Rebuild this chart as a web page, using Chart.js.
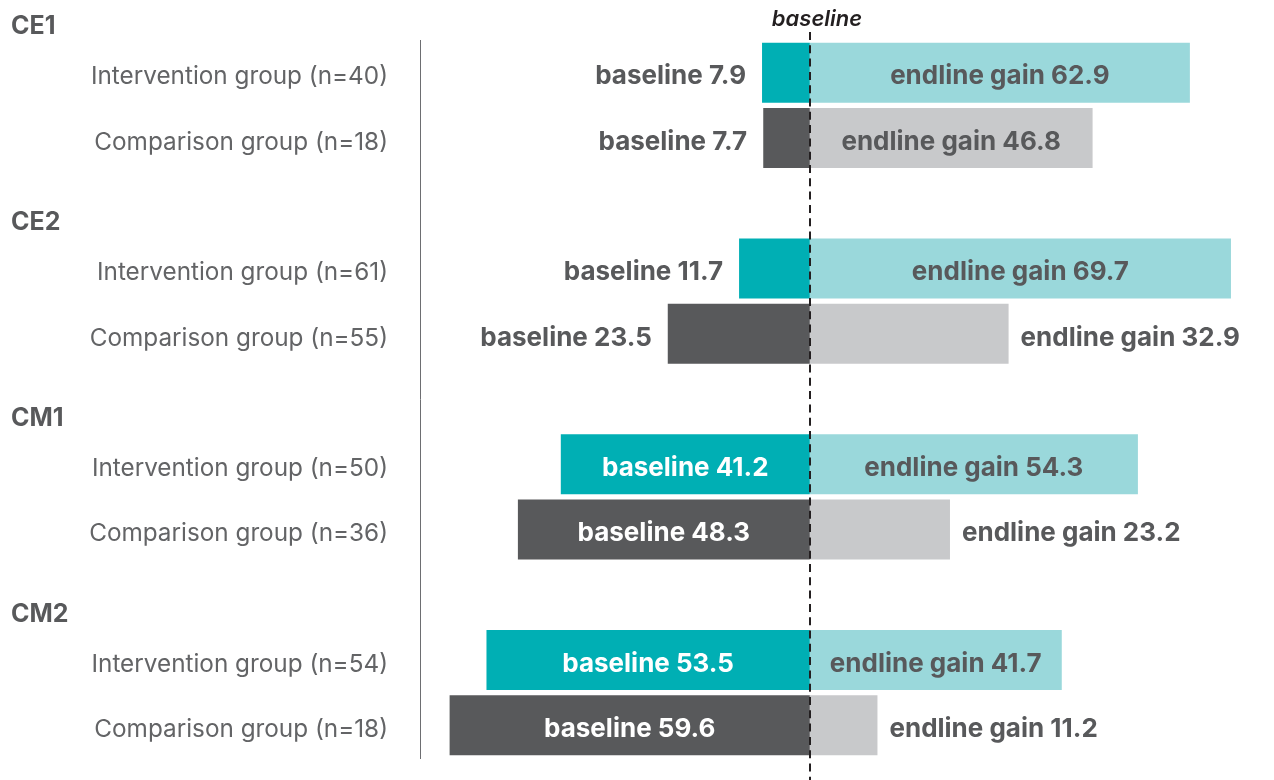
<!DOCTYPE html>
<html><head><meta charset="utf-8">
<script src="https://cdn.jsdelivr.net/npm/chart.js@4.4.0/dist/chart.umd.min.js"></script>
<style>html,body{margin:0;padding:0;background:#fff;} #wrap{width:1274px;height:780px;position:relative;}</style>
</head><body><div id="wrap"><canvas id="c" width="1274" height="780"></canvas></div>
<script>
const groups = ['CE1', 'CE2', 'CM1', 'CM2'];
const interventionN = [40, 61, 50, 54];
const comparisonN = [18, 55, 36, 18];
const interventionBaseline = [7.9, 11.7, 41.2, 53.5];
const interventionGain = [62.9, 69.7, 54.3, 41.7];
const comparisonBaseline = [7.7, 23.5, 48.3, 59.6];
const comparisonGain = [46.8, 32.9, 23.2, 11.2];
const baselineText = 'baseline';
const gainText = 'endline gain';

const COLORS = {
  intBase: '#00AFB4', intGain: '#9AD8DB',
  compBase: '#58595B', compGain: '#C8C9CB',
  text: '#58595B', tick: '#636466'
};

const rowLabels = [], rowBase = [], rowGain = [], rowType = [], headerRows = [];
groups.forEach((g, i) => {
  if (i > 0) { rowLabels.push(''); rowBase.push(null); rowGain.push(null); rowType.push('gap'); }
  headerRows.push({ text: g, row: rowLabels.length });
  rowLabels.push('Intervention group (n=' + interventionN[i] + ')');
  rowBase.push(-interventionBaseline[i]); rowGain.push(interventionGain[i]); rowType.push('int');
  rowLabels.push('Comparison group (n=' + comparisonN[i] + ')');
  rowBase.push(-comparisonBaseline[i]); rowGain.push(comparisonGain[i]); rowType.push('comp');
});

const VALUE_FONT = 'bold 26px Inter, "Liberation Sans", sans-serif';
const HEADER_FONT = 'bold 25px Inter, "Liberation Sans", sans-serif';
const DY = 4;

const overlay = {
  id: 'overlay',
  afterDatasetsDraw(chart) {
    const ctx = chart.ctx, xs = chart.scales.x, ys = chart.scales.y;
    ctx.save();
    ctx.font = VALUE_FONT;
    ctx.textBaseline = 'middle';
    chart.data.datasets.forEach((ds, di) => {
      const meta = chart.getDatasetMeta(di);
      meta.data.forEach((bar, i) => {
        const v = ds.data[i];
        if (v == null) return;
        const txt = (di === 0 ? baselineText + ' ' : gainText + ' ') + Math.abs(v).toFixed(1);
        const w = ctx.measureText(txt).width;
        const left = Math.min(bar.x, bar.base), right = Math.max(bar.x, bar.base);
        const bw = right - left;
        const y = bar.y + DY;
        if (w + 12 < bw) {
          ctx.textAlign = 'center';
          ctx.fillStyle = di === 0 ? '#FFFFFF' : COLORS.text;
          ctx.fillText(txt, (left + right) / 2, y);
        } else if (di === 0) {
          ctx.textAlign = 'right'; ctx.fillStyle = COLORS.text;
          ctx.fillText(txt, left - 16, y);
        } else {
          ctx.textAlign = 'left'; ctx.fillStyle = COLORS.text;
          ctx.fillText(txt, right + 12, y);
        }
      });
    });
    // dashed baseline
    const x0 = Math.round(xs.getPixelForValue(0));
    ctx.strokeStyle = '#231F20';
    ctx.lineWidth = 2;
    ctx.setLineDash([8, 5.3]);
    ctx.beginPath();
    ctx.moveTo(x0, 32);
    ctx.lineTo(x0, 780);
    ctx.stroke();
    ctx.setLineDash([]);
    // top label
    ctx.font = 'italic 600 22px Inter, "Liberation Sans", sans-serif';
    ctx.fillStyle = '#231F20';
    ctx.textAlign = 'center';
    ctx.fillText(baselineText, x0 + 7, 19.5);
    // group headers
    ctx.font = HEADER_FONT;
    ctx.textAlign = 'left';
    ctx.fillStyle = COLORS.text;
    headerRows.forEach(h => {
      ctx.fillText(h.text, 11, ys.getPixelForValue(h.row) - 46);
    });
    ctx.restore();
  }
};

new Chart(document.getElementById('c'), {
  type: 'bar',
  data: {
    labels: rowLabels,
    datasets: [
      { label: baselineText, data: rowBase,
        backgroundColor: rowType.map(t => t === 'int' ? COLORS.intBase : COLORS.compBase) },
      { label: gainText, data: rowGain,
        backgroundColor: rowType.map(t => t === 'int' ? COLORS.intGain : COLORS.compGain) }
    ]
  },
  options: {
    indexAxis: 'y',
    responsive: false,
    animation: false,
    layout: { padding: { left: 0, top: 40, right: 11, bottom: 22 } },
    datasets: { bar: { categoryPercentage: 1, barPercentage: 0.919 } },
    plugins: { legend: { display: false }, tooltip: { enabled: false } },
    scales: {
      x: { display: false, stacked: true, min: -64.5, max: 75 },
      y: {
        stacked: true,
        grid: { display: false, drawTicks: false },
        border: { display: true, color: '#6D6E71', width: 1 },
        ticks: { autoSkip: false, padding: 32, labelOffset: 4.5, color: COLORS.tick,
          font: { family: 'Inter, "Liberation Sans", sans-serif', size: 24.3, weight: 400 } },
        afterFit(s) { s.width = 420; s.paddingTop = 0; s.paddingBottom = 0; }
      }
    }
  },
  plugins: [overlay]
});
</script>
</body></html>
